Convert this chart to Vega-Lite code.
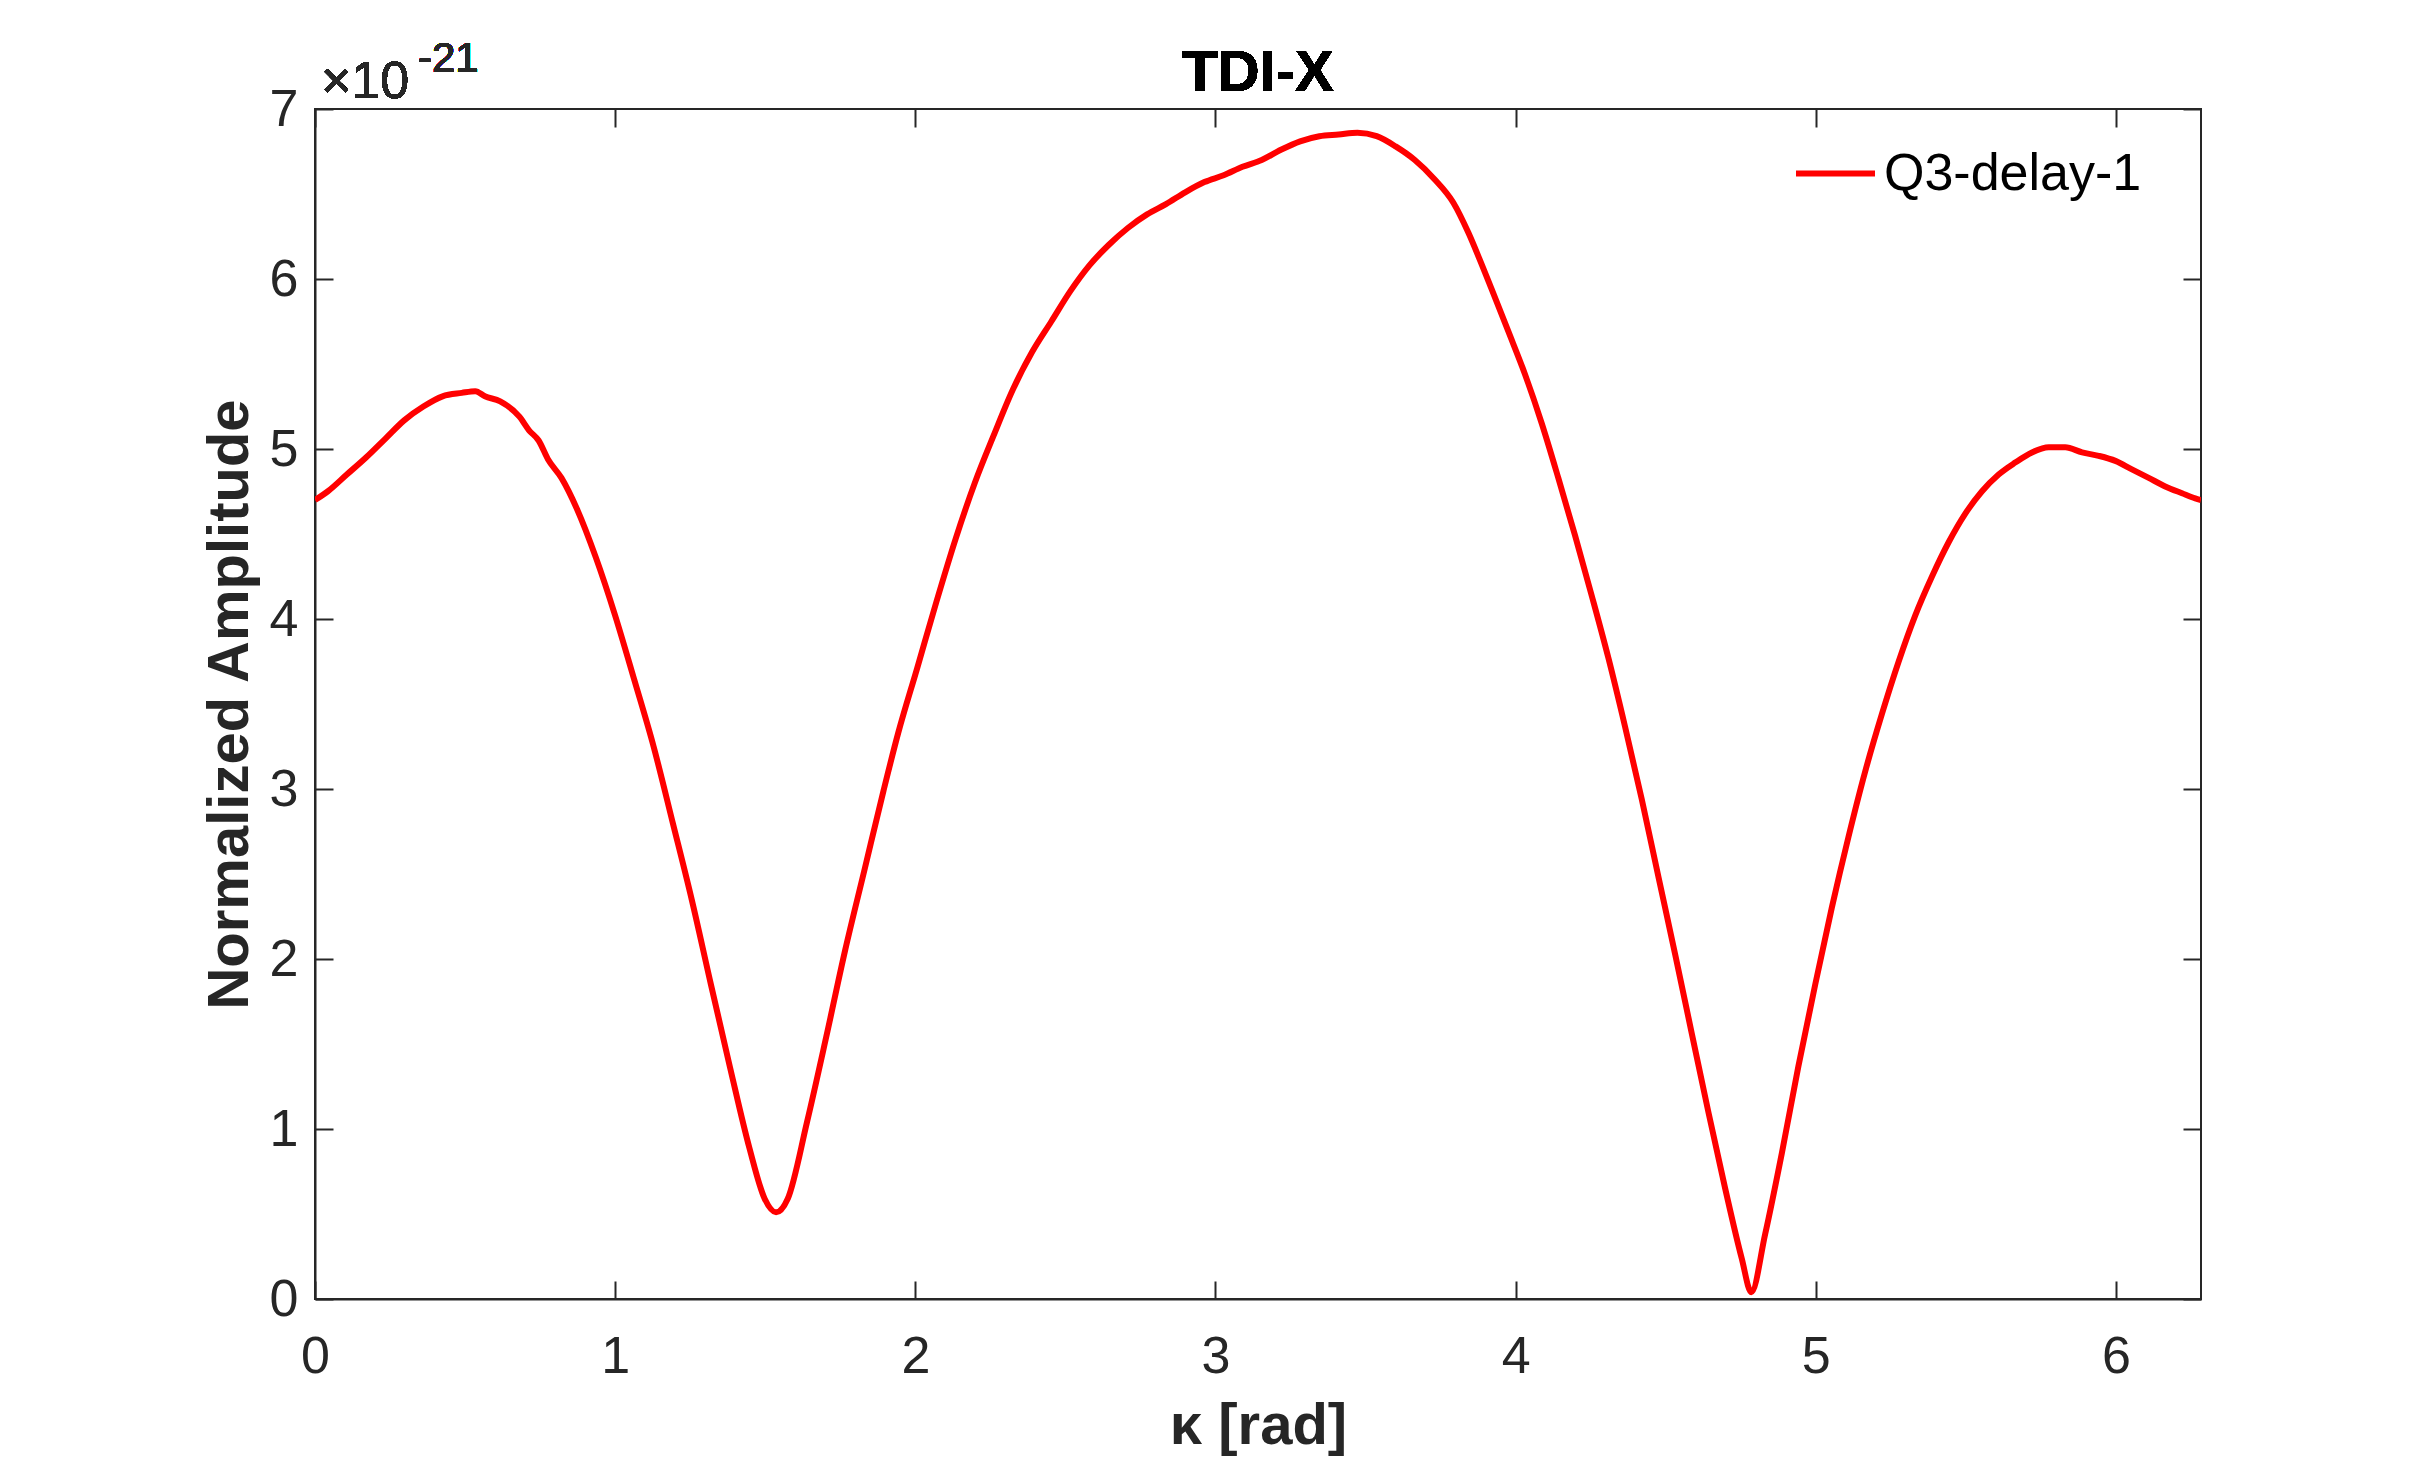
{
  "$schema": "https://vega.github.io/schema/vega-lite/v6.json",
  "width": 1886,
  "height": 1190,
  "autosize": {"type": "none"},
  "padding": {"left": 315, "top": 109, "right": 233, "bottom": 161},
  "background": "white",
  "config": {
    "view": {"stroke": "#262626", "strokeWidth": 2},
    "font": "Liberation Sans",
    "axis": {"labelFont": "Liberation Sans", "titleFont": "Liberation Sans", "labelColor": "#262626", "titleColor": "#262626", "tickColor": "#262626", "domainColor": "#262626", "grid": false}
  },
  "data": {"values": [
    {"kappa": 0, "amp": 4.70}, {"kappa": 0.042, "amp": 4.75}, {"kappa": 0.106, "amp": 4.85}, {"kappa": 0.17, "amp": 4.95},
    {"kappa": 0.234, "amp": 5.06}, {"kappa": 0.298, "amp": 5.17}, {"kappa": 0.361, "amp": 5.25}, {"kappa": 0.425, "amp": 5.31},
    {"kappa": 0.489, "amp": 5.33}, {"kappa": 0.534, "amp": 5.34}, {"kappa": 0.566, "amp": 5.31}, {"kappa": 0.617, "amp": 5.28},
    {"kappa": 0.681, "amp": 5.19}, {"kappa": 0.713, "amp": 5.11}, {"kappa": 0.745, "amp": 5.05}, {"kappa": 0.776, "amp": 4.94},
    {"kappa": 0.821, "amp": 4.83}, {"kappa": 0.872, "amp": 4.65}, {"kappa": 0.936, "amp": 4.36}, {"kappa": 1.0, "amp": 4.02},
    {"kappa": 1.064, "amp": 3.64}, {"kappa": 1.128, "amp": 3.25}, {"kappa": 1.192, "amp": 2.80}, {"kappa": 1.255, "amp": 2.35},
    {"kappa": 1.319, "amp": 1.85}, {"kappa": 1.383, "amp": 1.36}, {"kappa": 1.447, "amp": 0.89}, {"kappa": 1.498, "amp": 0.59},
    {"kappa": 1.536, "amp": 0.51}, {"kappa": 1.575, "amp": 0.59}, {"kappa": 1.639, "amp": 1.04}, {"kappa": 1.703, "amp": 1.54},
    {"kappa": 1.766, "amp": 2.05}, {"kappa": 1.83, "amp": 2.52}, {"kappa": 1.894, "amp": 2.99}, {"kappa": 1.943, "amp": 3.33},
    {"kappa": 2.006, "amp": 3.71}, {"kappa": 2.07, "amp": 4.10}, {"kappa": 2.134, "amp": 4.47}, {"kappa": 2.198, "amp": 4.80},
    {"kappa": 2.261, "amp": 5.08}, {"kappa": 2.325, "amp": 5.35}, {"kappa": 2.389, "amp": 5.57}, {"kappa": 2.453, "amp": 5.75},
    {"kappa": 2.517, "amp": 5.93}, {"kappa": 2.58, "amp": 6.08}, {"kappa": 2.644, "amp": 6.20}, {"kappa": 2.708, "amp": 6.30},
    {"kappa": 2.772, "amp": 6.38}, {"kappa": 2.835, "amp": 6.44}, {"kappa": 2.899, "amp": 6.51}, {"kappa": 2.963, "amp": 6.57},
    {"kappa": 3.027, "amp": 6.61}, {"kappa": 3.09, "amp": 6.66}, {"kappa": 3.154, "amp": 6.70}, {"kappa": 3.218, "amp": 6.76},
    {"kappa": 3.282, "amp": 6.81}, {"kappa": 3.346, "amp": 6.84}, {"kappa": 3.41, "amp": 6.85}, {"kappa": 3.473, "amp": 6.86},
    {"kappa": 3.537, "amp": 6.84}, {"kappa": 3.6, "amp": 6.78}, {"kappa": 3.664, "amp": 6.70}, {"kappa": 3.728, "amp": 6.59},
    {"kappa": 3.792, "amp": 6.45}, {"kappa": 3.843, "amp": 6.27}, {"kappa": 3.879, "amp": 6.12}, {"kappa": 3.92, "amp": 5.94},
    {"kappa": 3.976, "amp": 5.69}, {"kappa": 4.031, "amp": 5.44}, {"kappa": 4.087, "amp": 5.15}, {"kappa": 4.142, "amp": 4.83},
    {"kappa": 4.198, "amp": 4.49}, {"kappa": 4.253, "amp": 4.14}, {"kappa": 4.309, "amp": 3.77}, {"kappa": 4.364, "amp": 3.37},
    {"kappa": 4.42, "amp": 2.94}, {"kappa": 4.476, "amp": 2.48}, {"kappa": 4.531, "amp": 2.03}, {"kappa": 4.587, "amp": 1.56},
    {"kappa": 4.642, "amp": 1.10}, {"kappa": 4.698, "amp": 0.65}, {"kappa": 4.753, "amp": 0.24}, {"kappa": 4.785, "amp": 0.04},
    {"kappa": 4.831, "amp": 0.38}, {"kappa": 4.887, "amp": 0.86}, {"kappa": 4.942, "amp": 1.37}, {"kappa": 4.998, "amp": 1.85},
    {"kappa": 5.053, "amp": 2.30}, {"kappa": 5.109, "amp": 2.72}, {"kappa": 5.164, "amp": 3.10}, {"kappa": 5.22, "amp": 3.44},
    {"kappa": 5.276, "amp": 3.75}, {"kappa": 5.331, "amp": 4.02}, {"kappa": 5.387, "amp": 4.25}, {"kappa": 5.442, "amp": 4.45},
    {"kappa": 5.498, "amp": 4.62}, {"kappa": 5.553, "amp": 4.75}, {"kappa": 5.609, "amp": 4.85}, {"kappa": 5.664, "amp": 4.92},
    {"kappa": 5.72, "amp": 4.98}, {"kappa": 5.776, "amp": 5.01}, {"kappa": 5.831, "amp": 5.01}, {"kappa": 5.887, "amp": 4.98},
    {"kappa": 5.942, "amp": 4.96}, {"kappa": 5.998, "amp": 4.93}, {"kappa": 6.053, "amp": 4.88}, {"kappa": 6.109, "amp": 4.83},
    {"kappa": 6.164, "amp": 4.78}, {"kappa": 6.22, "amp": 4.74}, {"kappa": 6.264, "amp": 4.71}, {"kappa": 6.2832, "amp": 4.70}
  ]},
  "resolve": {"axis": {"x": "independent", "y": "independent"}},
  "layer": [
    {
      "mark": {"type": "line", "strokeWidth": 6, "clip": true, "interpolate": "monotone"},
      "encoding": {
        "x": {"field": "kappa", "type": "quantitative", "scale": {"domain": [0, 6.2832], "nice": false, "zero": false},
              "axis": {"orient": "bottom", "values": [0, 1, 2, 3, 4, 5, 6], "format": "d", "tickSize": -18, "tickWidth": 2, "domainWidth": 2, "labelFontSize": 52, "labelPadding": 50, "labelFlush": false,
                       "title": "κ [rad]", "titleFontSize": 58, "titleFontWeight": "bold", "titlePadding": 15}},
        "y": {"field": "amp", "type": "quantitative", "scale": {"domain": [0, 7], "nice": false, "zero": true},
              "axis": {"orient": "left", "values": [0, 1, 2, 3, 4, 5, 6, 7], "format": "d", "tickSize": -18, "tickWidth": 2, "domainWidth": 2, "labelFontSize": 52, "labelPadding": 35, "labelFlush": false,
                       "title": "Normalized Amplitude", "titleFontSize": 58, "titleFontWeight": "bold", "titlePadding": 10}},
        "color": {"datum": "Q3-delay-1", "type": "nominal", "scale": {"range": ["#FF0000"]},
                  "legend": {"title": null, "orient": "none", "legendX": 1478, "legendY": 22, "padding": 0, "symbolType": "stroke", "symbolSize": 6241, "symbolStrokeWidth": 6, "labelFontSize": 52, "labelFont": "Liberation Sans", "labelColor": "#000000", "labelOffset": 6, "labelLimit": 0}}
      }
    },
    {
      "mark": {"type": "line", "opacity": 0},
      "encoding": {
        "x": {"field": "kappa", "type": "quantitative",
              "axis": {"orient": "top", "values": [0, 1, 2, 3, 4, 5, 6], "labels": false, "domain": false, "tickSize": -18, "tickWidth": 2, "title": null}},
        "y": {"field": "amp", "type": "quantitative",
              "axis": {"orient": "right", "values": [0, 1, 2, 3, 4, 5, 6, 7], "labels": false, "domain": false, "tickSize": -18, "tickWidth": 2, "title": null}}
      }
    },
    {
      "mark": {"type": "text", "text": "TDI-X", "font": "Liberation Sans", "fontSize": 58, "fontWeight": "bold", "color": "#000000", "align": "center", "baseline": "alphabetic", "dy": -18},
      "encoding": {"x": {"datum": 3.1416, "type": "quantitative", "axis": null}, "y": {"datum": 7, "type": "quantitative", "axis": null}}
    },
    {
      "mark": {"type": "text", "text": "×10", "font": "Liberation Sans", "fontSize": 52, "color": "#262626", "align": "left", "baseline": "alphabetic", "dx": 6, "dy": -11},
      "encoding": {"x": {"datum": 0, "type": "quantitative", "axis": null}, "y": {"datum": 7, "type": "quantitative", "axis": null}}
    },
    {
      "mark": {"type": "text", "text": "-21", "font": "Liberation Sans", "fontSize": 42, "color": "#262626", "align": "left", "baseline": "alphabetic", "dx": 103, "dy": -37},
      "encoding": {"x": {"datum": 0, "type": "quantitative", "axis": null}, "y": {"datum": 7, "type": "quantitative", "axis": null}}
    }
  ]
}
